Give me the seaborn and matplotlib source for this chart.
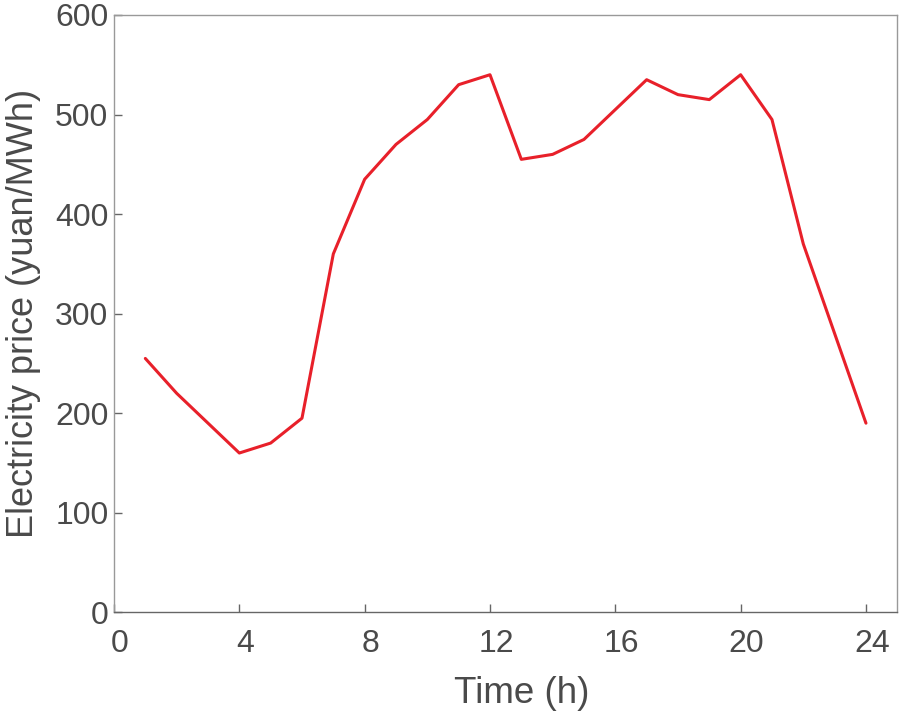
import numpy as np
import pandas as pd
import matplotlib
matplotlib.use("Agg")
import matplotlib.pyplot as plt
import matplotlib.transforms as mtransforms
import seaborn as sns

# ── data ─────────────────────────────────────────────
hours = [1, 2, 3, 4, 5, 6, 7, 8, 9, 10, 11, 12,
         13, 14, 15, 16, 17, 18, 19, 20, 21, 22, 23, 24]
price = [255, 220, 190, 160, 170, 195, 360, 435, 470, 495, 530, 540,
         455, 460, 475, 505, 535, 520, 515, 540, 495, 370, 280, 190]
x_ticks = [0, 4, 8, 12, 16, 20, 24]
y_ticks = [0, 100, 200, 300, 400, 500, 600]

df = pd.DataFrame({"hour": hours, "price": price})

# ── style ────────────────────────────────────────────
sns.set_style("white")
plt.rcParams["font.family"] = ["Liberation Sans", "DejaVu Sans"]
text_col = "#4a4a4a"

fig = plt.figure(figsize=(9.01, 7.18), dpi=100)
ax = fig.add_axes([114 / 901, 1 - 612.3 / 718, (897.3 - 114) / 901, (612.3 - 15) / 718])

sns.lineplot(data=df, x="hour", y="price", ax=ax, color="#e8202a", linewidth=2.2)

ax.set_xlim(0, 25)
ax.set_ylim(0, 600)
ax.set_xticks(x_ticks)
ax.set_yticks(y_ticks)
ax.set_xlabel("Time (h)", fontsize=26.5, color=text_col, labelpad=12)
ax.xaxis.label.set_x(0.52)
ax.set_ylabel("Electricity price (yuan/MWh)", fontsize=26, color=text_col, labelpad=10)
ax.tick_params(axis="both", direction="in", length=6, width=1, color="#666666",
               labelsize=23, labelcolor=text_col, bottom=True, left=True,
               top=False, right=False)
ax.tick_params(axis="x", pad=12)
ax.tick_params(axis="y", pad=4)

# x labels sit a little to the right of their ticks
shift = mtransforms.ScaledTranslation(6 / 100, 0, fig.dpi_scale_trans)
for lab in ax.get_xticklabels():
    lab.set_transform(lab.get_transform() + shift)

for side in ["left", "top", "right"]:
    ax.spines[side].set_color("#999999")
ax.spines["bottom"].set_color("#666666")
for s in ax.spines.values():
    s.set_linewidth(1)

fig.savefig("out.png", dpi=100)
